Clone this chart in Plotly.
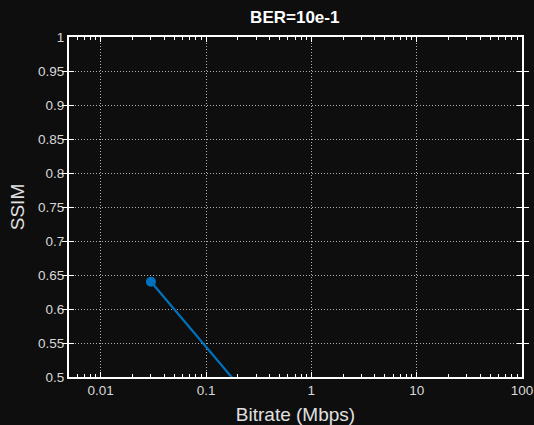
import plotly.graph_objects as go

bitrate = [0.03, 0.3]
ssim = [0.64, 0.457]
x_ticks = [0.01, 0.1, 1, 10, 100]
x_tick_labels = ["0.01", "0.1", "1", "10", "100"]
x_minor_ticks = [m * d for d in [0.001, 0.01, 0.1, 1, 10] for m in range(2, 10) if 0.005 <= m * d <= 100]
y_ticks = [0.5, 0.55, 0.6, 0.65, 0.7, 0.75, 0.8, 0.85, 0.9, 0.95, 1]
y_tick_labels = ["0.5", "0.55", "0.6", "0.65", "0.7", "0.75", "0.8", "0.85", "0.9", "0.95", "1"]

bg = "#0e0e0e"
fg = "#ffffff"
fam = "Liberation Sans, Arial, sans-serif"
tickfont = dict(family=fam, size=13.5, color="#d8d8d8")

fig = go.Figure()
fig.add_trace(go.Scatter(
    x=bitrate, y=ssim, mode="lines+markers",
    line=dict(color="#0072BD", width=2.2),
    marker=dict(color="#0072BD", size=10),
    showlegend=False, hoverinfo="skip",
))
# invisible trace to carry the minor-tick overlay axis
fig.add_trace(go.Scatter(
    x=bitrate, y=ssim, xaxis="x2", mode="lines",
    line=dict(width=0), opacity=0, showlegend=False, hoverinfo="skip",
))

fig.update_layout(
    width=534, height=425,
    paper_bgcolor=bg, plot_bgcolor=bg,
    margin=dict(l=69, r=12, t=37, b=48),
    title=dict(text="<b>BER=10e-1</b>", x=0.552, xanchor="center", y=0.96, yanchor="middle",
               font=dict(family=fam, size=17, color=fg)),
    xaxis2=dict(
        type="log", range=[-2.301, 2], overlaying="x", side="bottom",
        tickvals=x_minor_ticks, showticklabels=False,
        ticks="inside", ticklen=3, tickcolor=fg, tickwidth=1,
        showline=False, mirror="allticks", showgrid=False, zeroline=False,
        automargin=False,
    ),
)
fig.update_xaxes(
    selector=dict(anchor="y"),
    type="log", range=[-2.301, 2],
    tickvals=x_ticks, ticktext=x_tick_labels, tickfont=tickfont,
    ticks="inside", ticklen=5, tickcolor=fg, tickwidth=1,
    showline=True, linecolor=fg, linewidth=2, mirror="allticks",
    showgrid=True, gridcolor="#b0b0b0", griddash="1px,2px", gridwidth=1,
    zeroline=False, automargin=False,
    title=dict(text="Bitrate (Mbps)", standoff=10,
               font=dict(family=fam, size=19, color="#e0e0e0")),
)
fig.update_layout(xaxis=dict(
    type="log", range=[-2.301, 2],
    tickvals=x_ticks, ticktext=x_tick_labels, tickfont=tickfont,
    ticks="inside", ticklen=5, tickcolor=fg, tickwidth=1,
    showline=True, linecolor=fg, linewidth=2, mirror="allticks",
    showgrid=True, gridcolor="#b0b0b0", griddash="1px,2px", gridwidth=1,
    zeroline=False, automargin=False,
    title=dict(text="Bitrate (Mbps)", standoff=10,
               font=dict(family=fam, size=19, color="#e0e0e0")),
))
fig.update_layout(yaxis=dict(
    range=[0.5, 1],
    tickvals=y_ticks, ticktext=y_tick_labels, tickfont=tickfont,
    ticks="inside", ticklen=5, tickcolor=fg, tickwidth=1,
    showline=True, linecolor=fg, linewidth=2, mirror="allticks",
    showgrid=True, gridcolor="#b0b0b0", griddash="1px,2px", gridwidth=1,
    zeroline=False, automargin=False,
    title=dict(text="SSIM", standoff=8,
               font=dict(family=fam, size=19, color="#e0e0e0")),
))

fig.write_html("out.html", config={"displayModeBar": False},
               post_script="document.body.style.margin='0';document.body.style.background='#0e0e0e';")
